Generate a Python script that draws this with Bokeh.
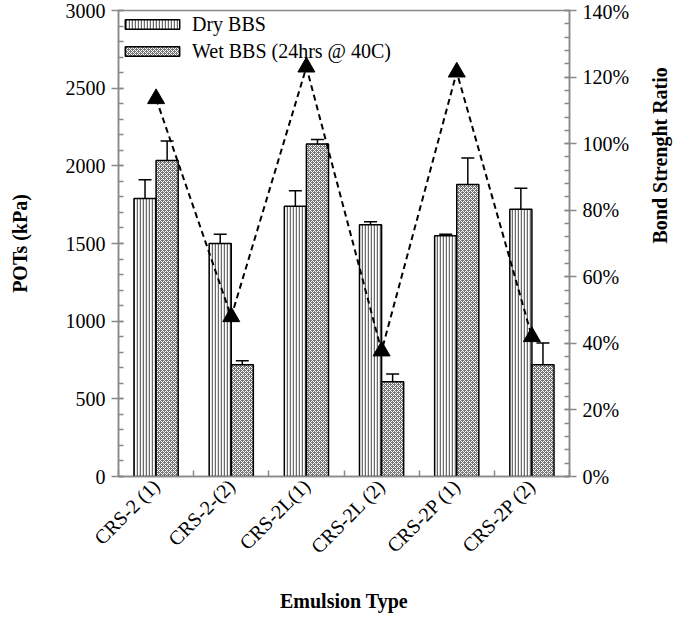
from math import pi
from bokeh.plotting import figure
from bokeh.models import (ColumnDataSource, Range1d, LinearAxis, FixedTicker,
                          SingleIntervalTicker, NumeralTickFormatter, Whisker,
                          TeeHead, Legend, LegendItem)
from bokeh.embed import file_html
from bokeh.resources import INLINE

categories = ["CRS-2 (1)", "CRS-2-(2)", "CRS-2L(1)", "CRS-2L (2)", "CRS-2P (1)", "CRS-2P (2)"]
series_names = ["Dry BBS", "Wet BBS (24hrs @ 40C)"]
dry = [1790, 1500, 1740, 1620, 1550, 1720]
dry_err = [120, 60, 100, 20, 10, 135]
wet = [2035, 720, 2140, 610, 1880, 720]
wet_err = [125, 25, 30, 50, 170, 140]
ratio = [1.135, 0.48, 1.23, 0.377, 1.215, 0.42]

FONT = "Liberation Serif"
AX = "#898989"
BW = 0.294

W, H = 685, 615
BL, BR, BT, BB = 118, 112, 10, 135
frame_h = H - BT - BB

centers = [i + 0.5 for i in range(len(categories))]
src_dry = ColumnDataSource(dict(
    x=[c - BW / 2 for c in centers], top=dry,
    upper=[v + e for v, e in zip(dry, dry_err)],
    lower=[v - e for v, e in zip(dry, dry_err)]))
src_wet = ColumnDataSource(dict(
    x=[c + BW / 2 for c in centers], top=wet,
    upper=[v + e for v, e in zip(wet, wet_err)],
    lower=[v - e for v, e in zip(wet, wet_err)]))
src_ratio = ColumnDataSource(dict(x=centers, y=ratio))

p = figure(width=W, height=H, output_backend="svg", toolbar_location=None,
           x_range=Range1d(0, len(categories)), y_range=Range1d(0, 3000),
           min_border_left=BL, min_border_right=BR, min_border_top=BT,
           min_border_bottom=BB)
p.extra_y_ranges = {"ratio": Range1d(0, 1.4000001)}
p.grid.visible = False
p.outline_line_color = AX
p.outline_line_width = 1.5

r_dry = p.vbar(x="x", top="top", width=BW, source=src_dry, fill_color="white",
               line_color="black", line_width=1.5, hatch_pattern="vertical_line",
               hatch_color="#6a6a6a", hatch_scale=3, hatch_weight=1.5)
r_wet = p.vbar(x="x", top="top", width=BW, source=src_wet, fill_color="#767676",
               line_color="black", line_width=1.5, hatch_pattern="diagonal_cross",
               hatch_color="white", hatch_scale=4, hatch_weight=1)

for s in (src_dry, src_wet):
    w = Whisker(base="x", upper="upper", lower="lower", source=s, dimension="height",
                line_color="black", line_width=1.5,
                upper_head=TeeHead(size=13, line_color="black", line_width=1.5),
                lower_head=TeeHead(size=13, line_color="black", line_width=1.5))
    p.add_layout(w)

p.line(x="x", y="y", source=src_ratio, y_range_name="ratio", line_color="black",
       line_width=2, line_dash="6 4")
p.scatter(x="x", y="y", source=src_ratio, y_range_name="ratio", marker="triangle",
          size=17, fill_color="black", line_color="black")

def style(ax):
    ax.axis_line_color = AX
    ax.axis_line_width = 1.5
    ax.major_tick_line_color = AX
    ax.minor_tick_line_color = AX
    ax.major_tick_line_width = 1.5
    ax.minor_tick_line_width = 1.5
    ax.major_label_text_font = FONT
    ax.major_label_text_font_size = "20px"
    ax.major_label_text_color = "black"
    ax.axis_label_text_font = FONT
    ax.axis_label_text_font_size = "20px"
    ax.axis_label_text_font_style = "bold"
    ax.axis_label_text_color = "black"

# left axis
la = p.yaxis[0]
la.ticker = SingleIntervalTicker(interval=500, num_minor_ticks=5)
la.axis_label = "POTs (kPa)"
style(la)
la.major_tick_in = 5
la.major_tick_out = 7
la.minor_tick_in = 5
la.minor_tick_out = 0
la.major_label_standoff = 6
la.axis_label_standoff = 32

# right axis
ra = LinearAxis(y_range_name="ratio",
                ticker=SingleIntervalTicker(interval=0.2, num_minor_ticks=5),
                formatter=NumeralTickFormatter(format="0%"))
style(ra)
ra.major_tick_in = 5
ra.major_tick_out = 7
ra.minor_tick_in = 5
ra.minor_tick_out = 0
ra.major_label_standoff = 6
ra.axis_label = "Bond Strenght Ratio"
if "axis_label_orientation" in LinearAxis.properties():
    ra.axis_label_orientation = pi / 2
ra.axis_label_standoff = 28
p.add_layout(ra, "right")

# bottom axis
xa = p.xaxis[0]
xa.ticker = FixedTicker(ticks=centers, minor_ticks=list(range(len(categories) + 1)))
xa.major_label_overrides = {c: lab for c, lab in zip(centers, categories)}
xa.axis_label = "Emulsion Type"
style(xa)
xa.major_tick_in = 0
xa.major_tick_out = 0
xa.minor_tick_in = 6
xa.minor_tick_out = 0
xa.major_label_orientation = pi / 4
xa.major_label_standoff = 6
xa.axis_label_standoff = 22

PAD, GW, GH, LH, SP, STAND = 1, 68, 12, 24, 3, 6
LEG_TOP = 4  # legend top, px below the frame top
legend = Legend(items=[LegendItem(label=series_names[0], renderers=[r_dry]),
                       LegendItem(label=series_names[1], renderers=[r_wet])],
                location=(0, frame_h - (LEG_TOP + 2 * PAD + 2 * LH + SP)),
                glyph_width=GW, glyph_height=GH, label_height=LH,
                border_line_color=None, background_fill_alpha=0,
                padding=PAD, spacing=SP, margin=0, label_standoff=STAND,
                label_text_font=FONT, label_text_font_size="20px",
                label_text_color="black")
p.add_layout(legend)

open("out.html", "w").write(file_html(p, INLINE))
